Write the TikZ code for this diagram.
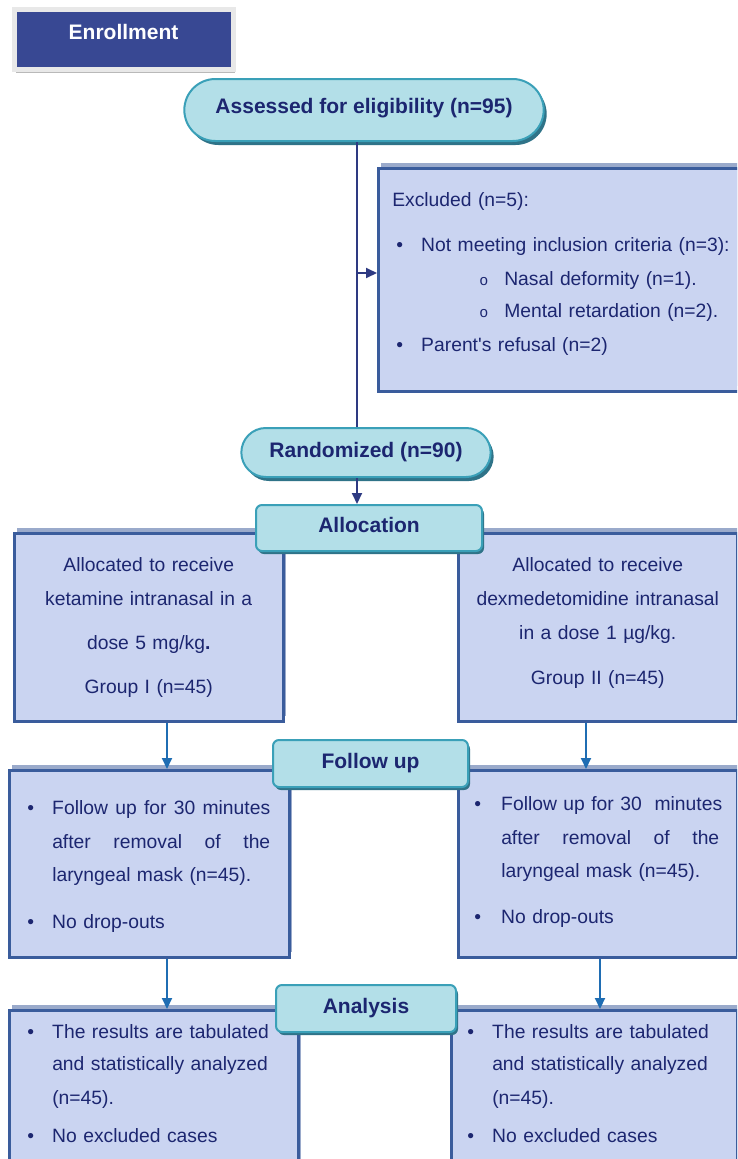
\documentclass[tikz,border=0pt]{standalone}
\usepackage{fontspec}
\setmainfont{Liberation Sans}
\newfontfamily\circfont{Liberation Mono}
\usetikzlibrary{positioning,arrows.meta,shapes.misc,shadows}
\definecolor{inknavy}{HTML}{1C2670}
\definecolor{boxline}{HTML}{3A5C9C}
\definecolor{boxfill}{HTML}{CAD4F1}
\definecolor{boxshade}{HTML}{9AAACB}
\definecolor{tagfill}{HTML}{B3DFE8}
\definecolor{tagline}{HTML}{3AA0B8}
\definecolor{tagshade}{HTML}{2F7388}
\definecolor{enrollblue}{HTML}{384893}
\definecolor{trunknavy}{HTML}{2E3A82}
\definecolor{branchblue}{HTML}{1F6DB3}
\newcommand{\bul}[1][25pt]{\makebox[#1][l]{\textbullet}}
\newcommand{\ind}[1][25pt]{\hspace*{#1}}
\newcommand{\subbul}{\hspace*{87pt}\makebox[25pt][l]{\circfont\fontsize{15}{15}\selectfont o}}
\newcommand{\jline}[1]{\hbox to 218pt{#1}}
\begin{document}
\begin{tikzpicture}[x=1pt,y=-1pt,
  every node/.style={text=inknavy},
  infobox/.style={draw=boxline,fill=boxfill,line width=2.5pt,anchor=north west,inner ysep=0pt,
    font=\fontsize{19.3}{34}\selectfont,
    drop shadow={shadow xshift=3pt,shadow yshift=5pt,fill=boxshade,opacity=1}},
  pill/.style={rounded rectangle,draw=tagline,fill=tagfill,line width=2pt,
    font=\fontsize{21}{25}\selectfont\bfseries,text height=15pt,text depth=6pt,
    drop shadow={shadow xshift=3pt,shadow yshift=-4pt,fill=tagshade,opacity=1}},
  stage/.style={rectangle,rounded corners=6pt,draw=tagline,fill=tagfill,line width=2pt,
    font=\fontsize{21}{25}\selectfont\bfseries,text height=15pt,text depth=6pt,
    drop shadow={shadow xshift=2pt,shadow yshift=-3pt,fill=tagshade,opacity=1}},
  trunk/.style={draw=trunknavy,line width=2pt},
  tip/.style={-{Triangle[length=11pt,width=10pt]}},
  branch/.style={draw=branchblue,line width=2pt,tip}]
\useasboundingbox (0,0) rectangle (737,1159);
\clip (0,0) rectangle (737,1159);

\node[draw=gray!18,fill=enrollblue,line width=5pt,minimum width=219pt,minimum height=60pt,
  text=white,font=\fontsize{21}{25}\selectfont\bfseries,text height=15pt,text depth=15pt,
  drop shadow={shadow xshift=2pt,shadow yshift=-3pt,fill=gray!55,opacity=1}]
  (enroll) at (123.5,39.5){Enrollment};
\node[pill,minimum width=366pt,minimum height=62pt,text depth=9pt] (assess) at (364,110){Assessed for eligibility (n=95)};
\node[infobox,text width=346pt,inner xsep=14pt,text height=38pt,text depth=185pt,align=left] (excl) at (377,167){Excluded (n=5):\\[11pt]
\hspace*{4pt}\bul Not meeting inclusion criteria (n=3):\\
\subbul Nasal deformity (n=1).\\[-2pt]
\subbul Mental retardation (n=2).\\
\hspace*{4pt}\bul Parent\textquotesingle s refusal (n=2)};
\node[pill,minimum width=256pt,minimum height=49pt] (rand) at (366,452.5){Randomized (n=90)};
%
\node[infobox,text width=249pt,inner xsep=10pt,text height=38pt,text depth=150pt,align=center] (grp1) at (13,532){Allocated to receive\\
ketamine intranasal in a\\[10pt]
dose 5 mg/kg\textbf{.}\\[10pt]
Group I (n=45)};
\node[infobox,text width=259pt,inner xsep=10pt,text height=38pt,text depth=150pt,align=center] (grp2) at (457,532){Allocated to receive\\
dexmedetomidine intranasal\\
in a dose 1 µg/kg.\\[11pt]
Group II (n=45)};
\node[infobox,text width=244pt,inner xsep=18pt,text height=44pt,text depth=143pt,align=left] (fu1) at (8,769){\bul\jline{Follow \hfill up \hfill for \hfill 30 \hfill minutes}\\
\ind\jline{after \hfill removal \hfill of \hfill the}\\[-1pt]
\ind laryngeal mask (n=45).\\[13pt]
\bul No drop-outs};
\node[infobox,text width=247pt,inner xsep=16pt,text height=40pt,text depth=147pt,align=left] (fu2) at (457,769){\bul[27pt]\jline{Follow \hfill up \hfill for \hfill 30\ \ \hfill minutes}\\
\ind[27pt]\jline{after \hfill removal \hfill of \hfill the}\\[-1pt]
\ind[27pt]laryngeal mask (n=45).\\[12pt]
\bul[27pt]No drop-outs};
\node[infobox,text width=253pt,inner xsep=18pt,text height=28pt,text depth=133pt,align=left] (an1) at (8,1009){\bul The results are tabulated\\[-2pt]
\ind and statistically analyzed\\
\ind (n=45).\\[4pt]
\bul No excluded cases};
\node[infobox,text width=254pt,inner xsep=16pt,text height=28pt,text depth=133pt,align=left] (an2) at (450,1009){\bul The results are tabulated\\[-2pt]
\ind and statistically analyzed\\
\ind (n=45).\\[4pt]
\bul No excluded cases};
%
\node[stage,minimum width=226pt,minimum height=46pt] (alloc) at (369,528){Allocation};
\node[stage,minimum width=195pt,minimum height=47pt] (follow) at (370.5,763.5){Follow up};
\node[stage,minimum width=180pt,minimum height=47pt] (analysis) at (366,1008.5){Analysis};
%
\coordinate (split) at (357,273);
\coordinate (c1) at (167,0);
\coordinate (c2) at (586,0);
\coordinate (c3) at (600,0);
\draw[trunk](assess.south -| split) -- (rand.north -| split);
\draw[trunk,tip](split) -- (excl.west |- split);
\draw[trunk,tip](rand.south -| split) -- (alloc.north -| split);
\draw[branch](grp1.south -| c1) -- (fu1.north -| c1);
\draw[branch](grp2.south -| c2) -- (fu2.north -| c2);
\draw[branch](fu1.south -| c1) -- (an1.north -| c1);
\draw[branch](fu2.south -| c3) -- (an2.north -| c3);

\end{tikzpicture}
\end{document}
